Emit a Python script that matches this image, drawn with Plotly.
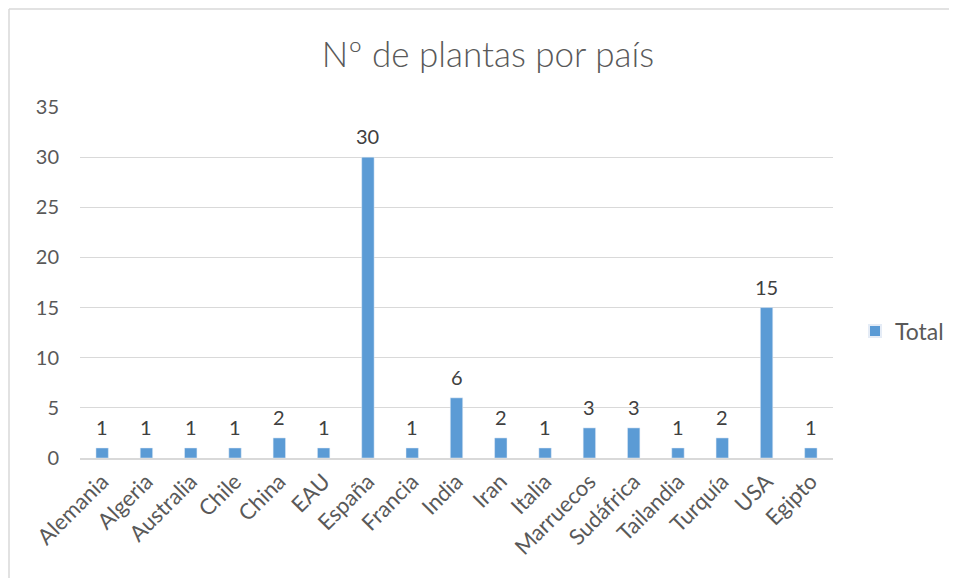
import plotly.graph_objects as go

countries = ['Alemania', 'Algeria', 'Australia', 'Chile', 'China', 'EAU', 'España',
             'Francia', 'India', 'Iran', 'Italia', 'Marruecos', 'Sudáfrica',
             'Tailandia', 'Turquía', 'USA', 'Egipto']
plants = [1, 1, 1, 1, 2, 1, 30, 1, 6, 2, 1, 3, 3, 1, 2, 15, 1]

# page body has an 8px margin, so the figure is drawn 8px in from the top-left
OFF = 8
W, H = 957 - OFF, 578 - OFF
L, R, T, B = 80 - OFF, 124, 107 - OFF, 120
pw, ph = W - L - R, H - T - B


def px_x(x):
    return (x - OFF - L) / pw


def px_y(y):
    return (H + OFF - B - y) / ph


text_col = '#595959'
font = 'Lato'

fig = go.Figure()
fig.add_trace(go.Bar(
    x=countries,
    y=plants,
    name='Total',
    marker_color='#5B9BD5',
))

# value labels a bit above each bar, like Excel's data labels
for c, v in zip(countries, plants):
    fig.add_annotation(x=c, y=v, text=str(v), showarrow=False, yanchor='bottom', yshift=7,
                       font=dict(size=20, color='#404040', family=font))

fig.update_layout(
    width=W, height=H,
    margin=dict(l=L, r=R, t=T, b=B, autoexpand=False),
    paper_bgcolor='white',
    plot_bgcolor='white',
    bargap=0.72,
    font=dict(family=font, color=text_col, size=20),
    title=dict(text='Nº de plantas por país', x=px_x(488), xref='paper', xanchor='center',
               y=1 - (55 - OFF) / H, yanchor='middle',
               font=dict(size=35, color=text_col, family=font, weight=300)),
    showlegend=True,
    legend=dict(x=px_x(855), y=px_y(331), xanchor='left', yanchor='middle',
                font=dict(size=23, color=text_col), itemwidth=30, itemsizing='constant'),
    xaxis=dict(tickangle=-45, showgrid=False, showline=True, linecolor='#D9D9D9', linewidth=2,
               ticks='', tickfont=dict(size=22, color=text_col), automargin=False),
    yaxis=dict(range=[0, 35], dtick=5, showgrid=True, gridcolor='#D9D9D9', gridwidth=1,
               zeroline=False, showline=False, ticks='', ticklabelstandoff=20,
               tickfont=dict(size=20, color=text_col), automargin=False),
    shapes=[
        dict(type='line', xref='paper', yref='paper', x0=px_x(9), x1=px_x(W + 20),
             y0=px_y(9), y1=px_y(9), line=dict(color='#D9D9D9', width=1.5)),
        dict(type='line', xref='paper', yref='paper', x0=px_x(9), x1=px_x(9),
             y0=px_y(9), y1=px_y(H + 20), line=dict(color='#D9D9D9', width=1.5)),
    ],
)

fig.write_html('out.html')
